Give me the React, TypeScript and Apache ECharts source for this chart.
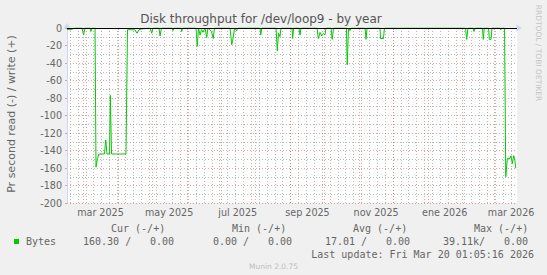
import React, { useEffect, useRef } from "react";
import * as echarts from "echarts";

// ---- data ----
const TIMES = [
  "2025-02-14 06:00", "2025-02-16 23:00", "2025-02-19 13:00", "2025-02-21 08:00", "2025-02-27 13:00",
  "2025-02-28 23:00", "2025-03-02 06:00", "2025-03-06 16:00", "2025-03-07 13:00", "2025-03-08 11:00",
  "2025-03-11 04:00", "2025-03-12 01:00", "2025-03-13 08:00", "2025-03-14 16:00", "2025-03-19 13:00",
  "2025-03-20 16:00", "2025-03-21 20:00", "2025-03-24 01:00", "2025-03-24 18:00", "2025-03-25 20:00",
  "2025-04-07 16:00", "2025-04-09 01:00", "2025-04-15 16:00", "2025-04-17 11:00", "2025-04-19 06:00",
  "2025-04-21 23:00", "2025-04-29 01:00", "2025-04-30 13:00", "2025-05-01 16:00", "2025-05-07 01:00",
  "2025-05-07 23:00", "2025-05-09 06:00", "2025-05-18 13:00", "2025-05-19 11:00", "2025-05-20 08:00",
  "2025-05-26 13:00", "2025-05-27 06:00", "2025-05-27 23:00", "2025-06-08 23:00", "2025-06-10 01:00",
  "2025-06-11 04:00", "2025-06-12 11:00", "2025-06-13 20:00", "2025-06-15 04:00", "2025-06-16 23:00",
  "2025-06-18 11:00", "2025-06-19 13:00", "2025-06-21 08:00", "2025-06-22 16:00", "2025-06-24 06:00",
  "2025-06-25 08:00", "2025-07-09 04:00", "2025-07-10 16:00", "2025-07-11 20:00", "2025-07-13 04:00",
  "2025-07-15 01:00", "2025-07-16 06:00", "2025-08-04 20:00", "2025-08-05 11:00", "2025-08-06 08:00",
  "2025-08-19 01:00", "2025-08-20 04:00", "2025-08-21 06:00", "2025-08-22 13:00", "2025-08-23 11:00",
  "2025-09-02 06:00", "2025-09-02 20:00", "2025-09-03 18:00", "2025-09-08 11:00", "2025-09-09 08:00",
  "2025-09-10 06:00", "2025-09-24 11:00", "2025-09-25 16:00", "2025-09-27 04:00", "2025-09-28 16:00",
  "2025-09-30 01:00", "2025-10-01 13:00", "2025-10-02 11:00", "2025-10-06 23:00", "2025-10-08 01:00",
  "2025-10-09 04:00", "2025-10-20 16:00", "2025-10-21 08:00", "2025-10-22 11:00", "2025-10-23 20:00",
  "2025-10-24 16:00", "2025-11-06 04:00", "2025-11-07 01:00", "2025-11-07 23:00", "2025-11-19 11:00",
  "2025-11-19 23:00", "2025-11-22 13:00", "2025-11-23 11:00", "2026-02-03 11:00", "2026-02-04 13:00",
  "2026-02-05 16:00", "2026-02-10 04:00", "2026-02-11 01:00", "2026-02-11 23:00", "2026-02-18 13:00",
  "2026-02-19 06:00", "2026-02-20 04:00", "2026-02-23 23:00", "2026-02-24 16:00", "2026-02-26 04:00",
  "2026-02-27 01:00", "2026-03-06 04:00", "2026-03-06 18:00", "2026-03-07 11:00", "2026-03-10 04:00",
  "2026-03-11 06:00", "2026-03-12 16:00", "2026-03-15 01:00", "2026-03-15 23:00", "2026-03-17 01:00",
  "2026-03-18 08:00", "2026-03-19 01:00", "2026-03-20 04:00",
];
const READ_BYTES = [
  -1.5, -2, -1, 0, 0,
  -8, 0, 0, -4, 0,
  0, -159, -149, -144, -144,
  -128, -144, -144, -77, -144,
  -144, -2, -2, -6, -2,
  -1, 0, -6, 0, 0,
  -9, 0, 0, -3, 0,
  0, -4, 0, 0, -21,
  0, -8, -2, -5, 0,
  -11, 0, -2, -4, -12,
  0, 0, -19, -12, 0,
  -3, 0, 0, -8, 0,
  0, -26, -6, -10, 0,
  0, -12, 0, 0, -8,
  0, 0, -12, -5, -9,
  -6, -8, 0, 0, -13,
  0, 0, -42, 0, -3,
  0, 0, -13, 0, 0,
  -12, -12, 0, 0, -13,
  0, 0, -4, 0, 0,
  -13, 0, 0, -13, -13,
  0, 0, -2, 0, 0,
  -170, -149, -149, -146, -155,
  -146, -148, -160.3,
];
const X_RANGE = ["2025-02-14 06:00", "2026-03-21 06:00"];
const X_LABEL_DATES = ["2025-03-16", "2025-05-16", "2025-07-16", "2025-09-16", "2025-11-16", "2026-01-16", "2026-03-16"];
const MONTH_NAMES = ["ene", "feb", "mar", "abr", "may", "jun", "jul", "ago", "sep", "oct", "nov", "dic"];
const Y_MIN = -200;
const Y_MAX = 0;
const Y_STEP = 20;

const LEGEND_HEAD = ["Cur (-/+)", "Min (-/+)", "Avg (-/+)", "Max (-/+)"];
const LEGEND_VALUES = ["160.30 /", "0.00", "0.00 /", "0.00", "17.01 /", "0.00", "39.11k/", "0.00"];
const LAST_UPDATE = "Last update: Fri Mar 20 01:05:16 2026";

const ts = (s: string) => (s.length <= 10 ? Date.parse(s + "T00:00:00Z") : Date.parse(s.replace(" ", "T") + ":00Z"));

function monthStarts(): number[] {
  const out: number[] = [];
  const min = ts(X_RANGE[0]);
  const max = ts(X_RANGE[1]);
  for (let y = 2025; y <= 2026; y++) {
    for (let m = 0; m < 12; m++) {
      const t = Date.UTC(y, m, 1);
      if (t > min && t < max) out.push(t);
    }
  }
  return out;
}
function weekStarts(): number[] {
  const out: number[] = [];
  const min = ts(X_RANGE[0]);
  const max = ts(X_RANGE[1]);
  let t = Date.UTC(2025, 1, 17); // first Monday
  while (t < max) {
    if (t > min) out.push(t);
    t += 7 * 86400000;
  }
  return out;
}

const FONT = "DejaVu Sans";
const MONO = "DejaVu Sans Mono";
const TXT = "#666";
const MAJOR = "rgba(225, 90, 90, 0.55)";
const MINOR = "rgba(140, 140, 140, 0.6)";

export default function App() {
  const ref = useRef<HTMLDivElement>(null);
  useEffect(() => {
    const chart = echarts.init(ref.current!, null, { renderer: "svg" });
    const months = monthStarts();
    const weeks = weekStarts();
    const data = TIMES.map((t, i) => [ts(t), READ_BYTES[i]]);
    const legendHeadX = [111, 232, 353, 474];
    const legendValX = [83, 150, 213, 268, 325, 386, 443, 504];
    const graphics: any[] = [
      { type: "text", x: 261, y: 19, style: { text: "Disk throughput for /dev/loop9 - by year", font: `12px "${FONT}"`, fill: "#555", align: "center", verticalAlign: "middle" } },
      { type: "text", x: 11, y: 114, rotation: Math.PI / 2, style: { text: "Pr second read (-) / write (+)", font: `11px "${FONT}"`, fill: TXT, align: "center", verticalAlign: "middle" } },
      { type: "text", x: 538.5, y: 53, rotation: -Math.PI / 2, style: { text: "RRDTOOL / TOBI OETIKER", font: `7.5px "${FONT}"`, fill: "#c4c4c4", align: "center", verticalAlign: "middle" } },
      { type: "text", x: 273.5, y: 266.5, style: { text: "Munin 2.0.75", font: `7.5px "${FONT}"`, fill: "#bdbdbd", align: "center", verticalAlign: "middle" } },
      { type: "rect", shape: { x: 14, y: 239, width: 5, height: 5 }, style: { fill: "#00cc00" } },
      { type: "text", x: 26, y: 241.6, style: { text: "Bytes", font: `10px "${MONO}"`, fill: TXT, verticalAlign: "middle" } },
      { type: "text", x: 534, y: 254, style: { text: LAST_UPDATE, font: `10px "${MONO}"`, fill: TXT, align: "right", verticalAlign: "middle" } },
    ];
    LEGEND_HEAD.forEach((h, i) =>
      graphics.push({ type: "text", x: legendHeadX[i], y: 228.7, style: { text: h, font: `10px "${MONO}"`, fill: TXT, verticalAlign: "middle" } })
    );
    LEGEND_VALUES.forEach((v, i) =>
      graphics.push({ type: "text", x: legendValX[i], y: 241.6, style: { text: v, font: `10px "${MONO}"`, fill: TXT, verticalAlign: "middle" } })
    );

    const option: any = {
      animation: false,
      backgroundColor: "#f0f0f0",
      grid: { left: 67, right: 30, top: 28, bottom: 72, show: true, backgroundColor: "#ffffff", borderWidth: 0 },
      xAxis: {
        type: "value",
        min: ts(X_RANGE[0]),
        max: ts(X_RANGE[1]),
        axisLine: { show: true, lineStyle: { color: "#CFD6F8", width: 1 }, symbol: ["none", "arrow"], symbolSize: [6, 6], symbolOffset: [0, 5] },
        axisTick: { show: true, length: 2, customValues: months, lineStyle: { color: MAJOR } },
        axisLabel: {
          customValues: X_LABEL_DATES.map(ts),
          margin: 4,
          color: TXT,
          fontFamily: FONT,
          fontSize: 9.6,
          formatter: (v: number) => {
            const d = new Date(v);
            return `${MONTH_NAMES[d.getUTCMonth()]} ${d.getUTCFullYear()}`;
          },
        },
        splitLine: { show: false },
      },
      yAxis: {
        type: "value",
        min: Y_MIN,
        max: Y_MAX,
        interval: Y_STEP,
        axisLine: { show: true, lineStyle: { color: "#CFD6F8", width: 1 }, symbol: ["none", "arrow"], symbolSize: [6, 6], symbolOffset: [0, 5] },
        axisTick: { show: true, length: 2, lineStyle: { color: MAJOR } },
        axisLabel: { color: TXT, fontFamily: FONT, fontSize: 9.6, margin: 5 },
        splitLine: { show: true, lineStyle: { color: MAJOR, type: [1, 2], width: 1 } },
        minorTick: { show: false, splitNumber: 2 },
        minorSplitLine: { show: true, lineStyle: { color: MINOR, type: [1, 2], width: 1 } },
      },
      graphic: graphics,
      series: [
        {
          type: "line",
          data: [],
          z: 1,
          silent: true,
          markLine: {
            silent: true,
            symbol: ["none", "none"],
            label: { show: false },
            animation: false,
            data: [
              ...weeks.map((w) => ({ xAxis: w, lineStyle: { color: MINOR, type: [1, 2], width: 1 } })),
              ...months.map((m) => ({ xAxis: m, lineStyle: { color: MAJOR, type: [1, 2], width: 1 } })),
            ],
          },
        },
        {
          type: "line",
          data,
          z: 3,
          symbol: "none",
          lineStyle: { color: "#00cc00", width: 1 },
          itemStyle: { color: "#00cc00" },
          markLine: {
            silent: true,
            symbol: ["none", "none"],
            label: { show: false },
            animation: false,
            data: [{ yAxis: 0, lineStyle: { color: "#000000", type: "solid", width: 1 } }],
          },
        },
      ],
    };
    chart.setOption(option);
    return () => chart.dispose();
  }, []);
  return <div ref={ref} style={{ position: "fixed", left: 0, top: 0, width: 547, height: 275 }} />;
}
